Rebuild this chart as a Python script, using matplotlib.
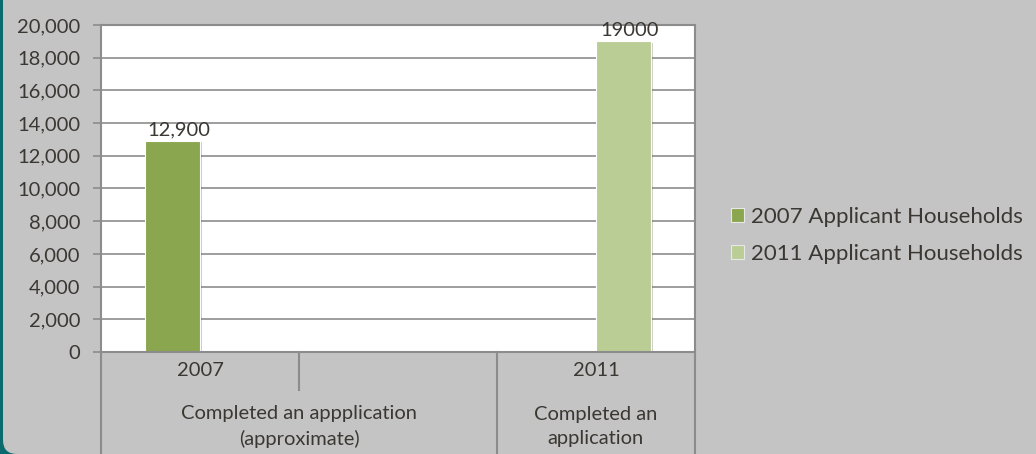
import matplotlib
matplotlib.use('Agg')
import matplotlib.pyplot as plt
import matplotlib.patheffects as pe
from matplotlib.patches import FancyBboxPatch
from matplotlib.transforms import IdentityTransform

# data
years = ['2007', '', '2011']
groups = ['Completed an appplication\n(approximate)', 'Completed an\napplication']
group_spans = [(0, 1), (2, 2)]
series_names = ['2007 Applicant Households', '2011 Applicant Households']
series_cat = [0, 2]
series_vals = [12900, 19000]
value_labels = ['12,900', '19000']
colors = ['#8AA64E', '#BACD95']

plt.rcParams['font.family'] = ['Lato', 'DejaVu Sans']
txt = '#3B3833'
grid = '#8C8C8C'
bg = '#C4C4C4'

fig = plt.figure(figsize=(10.36, 4.54), dpi=100, facecolor='#0B6A6E')
# rounded gray panel over teal backdrop
panel = FancyBboxPatch((3, 0), 1060, 480, boxstyle='round,pad=0,rounding_size=14',
                       transform=IdentityTransform(), facecolor=bg, edgecolor='none',
                       zorder=-10)
fig.patches.append(panel)

ax = fig.add_axes([0.0975, 0.2247, 0.5733, 0.7203])
ax.set_zorder(2)
ax.set_facecolor('white')

w = 0.277
offs = [-w / 2, w / 2]
bars = []
for i in range(2):
    b = ax.bar(series_cat[i] + offs[i], series_vals[i], width=w, color=colors[i],
               edgecolor='white', linewidth=0.8, label=series_names[i], zorder=3)
    for p in b:
        p.set_path_effects([pe.SimplePatchShadow(offset=(1.5, -1), alpha=0.25), pe.Normal()])
    ax.text(series_cat[i] + offs[i] + 0.03, series_vals[i] + 150, value_labels[i],
            ha='center', va='bottom', fontsize=14.5, color=txt, zorder=4)
    bars.append(b)

ax.set_xlim(-0.5, 2.5)
ax.set_ylim(0, 20000)
ax.set_yticks(range(0, 20001, 2000))
ax.set_yticklabels([f'{v:,}' for v in range(0, 20001, 2000)])
ax.tick_params(axis='y', colors=grid, labelcolor=txt, labelsize=14.5, length=6, width=1.2, pad=9)
ax.set_xticks([])
ax.grid(axis='y', color=grid, linewidth=1.2, zorder=1)
for s in ax.spines.values():
    s.set_color(grid)
    s.set_linewidth(1.5)
ax.spines['bottom'].set_zorder(5)

# multi-level category axis
tr = ax.get_xaxis_transform()
for x in [-0.5, 1.5, 2.5]:
    ax.plot([x, x], [0, -0.32], transform=tr, color=grid, lw=1.5, clip_on=False)
ax.plot([0.5, 0.5], [0, -0.115], transform=tr, color=grid, lw=1.5, clip_on=False)
for i, y in enumerate(years):
    if y:
        ax.text(i, -0.057, y, transform=tr, ha='center', va='center', fontsize=14.5, color=txt)
for g, (a, b) in zip(groups, group_spans):
    ax.text((a + b) / 2, -0.228, g, transform=tr, ha='center', va='center',
            fontsize=14.5, color=txt, linespacing=1.5)

leg = fig.legend(handles=[b[0] for b in bars], labels=series_names,
                 loc='center left', bbox_to_anchor=(0.686, 0.482), frameon=False,
                 fontsize=16, handlelength=0.6, handleheight=0.6, handletextpad=0.3,
                 labelspacing=0.75, labelcolor=txt)
for h in leg.legend_handles:
    h.set_path_effects([])
    h.set_edgecolor('#E8E8E8')

fig.savefig('out.png', dpi=100, facecolor=fig.get_facecolor())
